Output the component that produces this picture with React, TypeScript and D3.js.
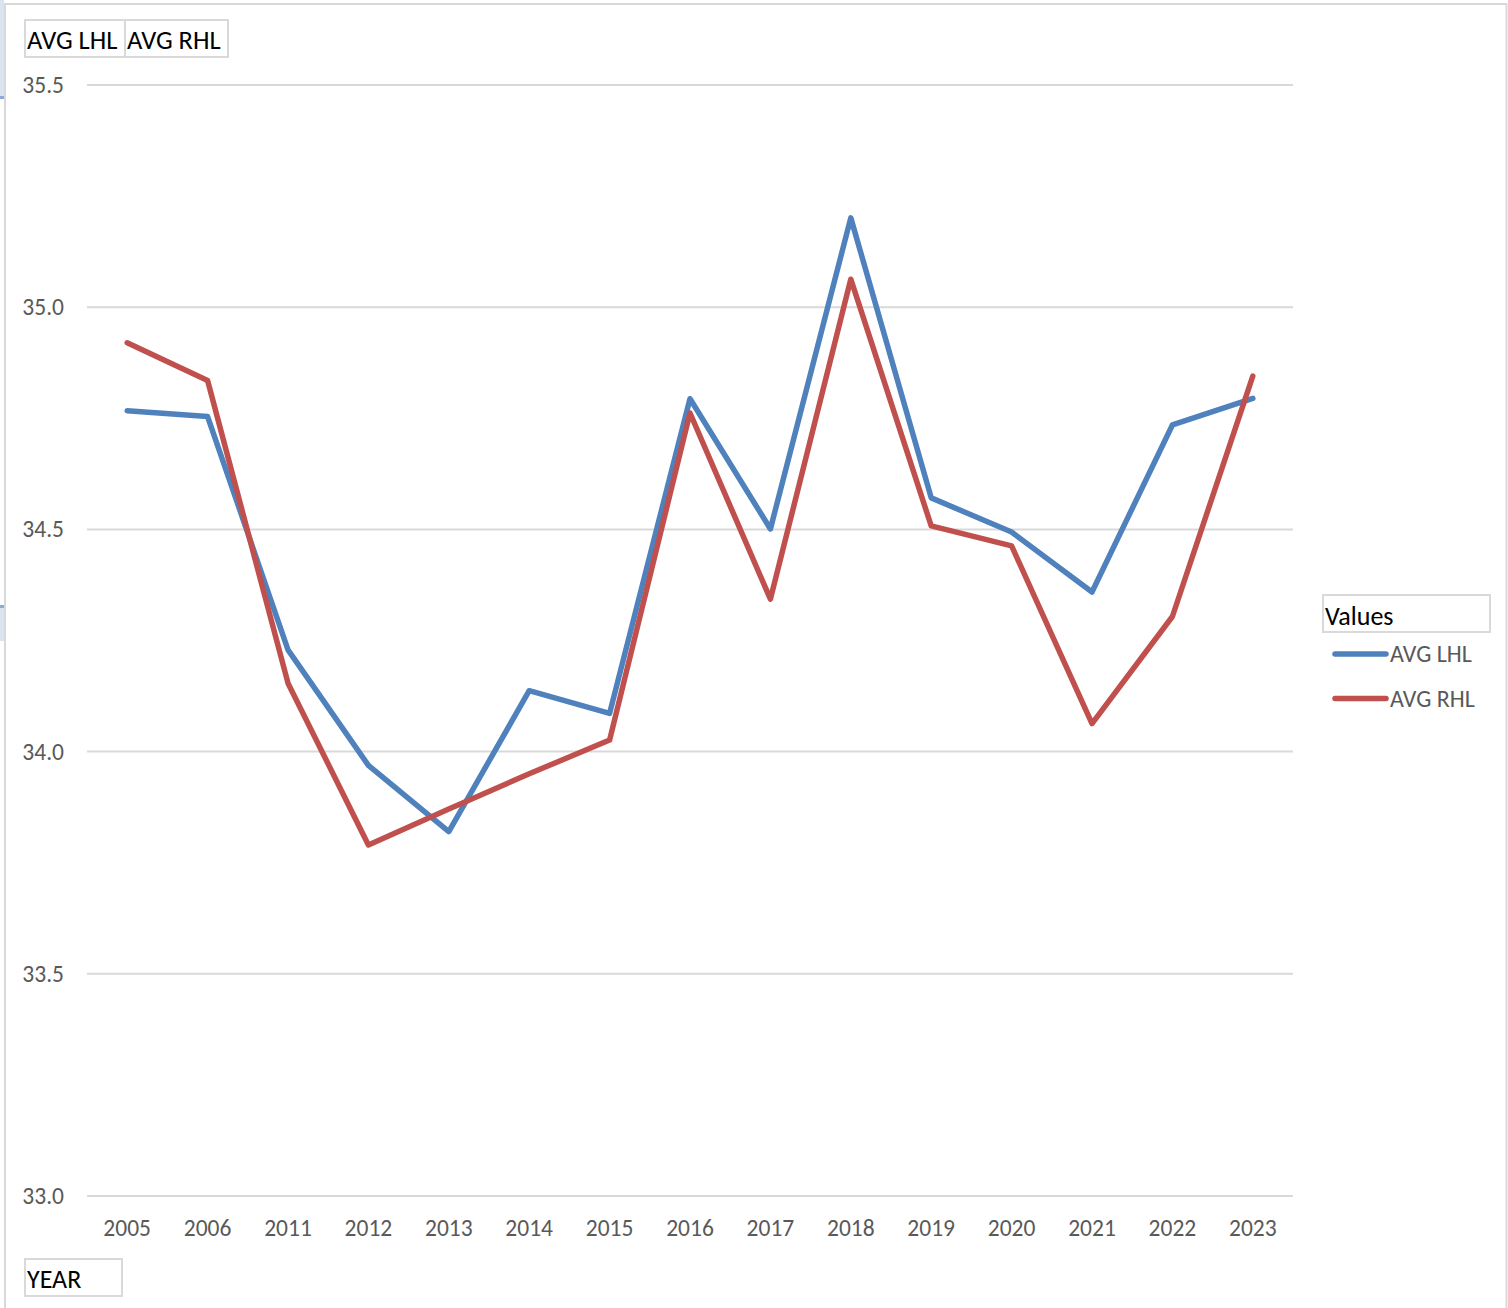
import * as d3 from 'd3';

const years = ['2005', '2006', '2011', '2012', '2013', '2014', '2015', '2016', '2017', '2018', '2019', '2020', '2021', '2022', '2023'];
const avgLHL = [34.767, 34.754, 34.229, 33.969, 33.82, 34.137, 34.086, 34.794, 34.501, 35.201, 34.571, 34.494, 34.359, 34.735, 34.795];
const avgRHL = [34.92, 34.835, 34.154, 33.79, 33.871, 33.95, 34.026, 34.762, 34.343, 35.063, 34.508, 34.463, 34.063, 34.304, 34.845];
const yTicks = [33.0, 33.5, 34.0, 34.5, 35.0, 35.5];

const series = [
  { name: 'AVG LHL', values: avgLHL, color: '#4f81bd' },
  { name: 'AVG RHL', values: avgRHL, color: '#c0504d' },
];

const W = 1508;
const H = 1308;
const FONT = "Carlito, Calibri, 'Liberation Sans', sans-serif";
const BORDER = '#d9d9d9';

export default function App() {
  const x = d3.scaleBand<string>().domain(years).range([87, 1293]).padding(0);
  const y = d3.scaleLinear().domain([33, 35.5]).range([1196, 85]);
  const cx = (yr: string) => (x(yr) ?? 0) + x.bandwidth() / 2;

  const line = d3
    .line<number>()
    .x((_, i) => cx(years[i]))
    .y((v) => y(v));

  return (
    <svg
      width={W}
      height={H}
      style={{ position: 'absolute', left: 0, top: 0, background: '#fff' }}
      fontFamily={FONT}
    >
      {/* spreadsheet cell edges peeking out at the left */}
      <rect x={0} y={0} width={4} height={96} fill="#dae3f0" />
      <rect x={0} y={96} width={4} height={3} fill="#8eaadb" />
      <rect x={0} y={605} width={4} height={3} fill="#8eaadb" />
      <rect x={0} y={608} width={4} height={33} fill="#dae3f0" />

      {/* chart frame */}
      <path d={`M5,${H} V4 H1506.5 V${H}`} fill="none" stroke={BORDER} strokeWidth={2} />

      {/* gridlines + y labels */}
      {yTicks.map((t) => (
        <g key={t}>
          <line x1={87} x2={1293} y1={y(t)} y2={y(t)} stroke={BORDER} strokeWidth={2} />
          <text x={64} y={y(t) + 8} textAnchor="end" fontSize={23.5} fill="#595959">
            {d3.format('.1f')(t)}
          </text>
        </g>
      ))}

      {/* x labels */}
      {years.map((yr) => (
        <text key={yr} x={cx(yr)} y={1236} textAnchor="middle" fontSize={23.5} fill="#595959">
          {yr}
        </text>
      ))}

      {/* series lines */}
      {series.map((s) => (
        <path
          key={s.name}
          d={line(s.values) ?? ''}
          fill="none"
          stroke={s.color}
          strokeWidth={5.5}
          strokeLinejoin="round"
          strokeLinecap="round"
        />
      ))}

      {/* pivot field buttons */}
      <rect x={25} y={20} width={100} height={37} fill="#fff" stroke={BORDER} strokeWidth={2} />
      <rect x={125} y={20} width={103} height={37} fill="#fff" stroke={BORDER} strokeWidth={2} />
      <text x={27} y={49} fontSize={26.5} fill="#000">AVG LHL</text>
      <text x={127} y={49} fontSize={26.5} fill="#000">AVG RHL</text>

      <rect x={25} y={1259} width={97} height={37} fill="#fff" stroke={BORDER} strokeWidth={2} />
      <text x={27} y={1288} fontSize={26} fill="#000">YEAR</text>

      {/* legend */}
      <rect x={1323} y={595} width={167} height={37} fill="#fff" stroke={BORDER} strokeWidth={2} />
      <text x={1325} y={625} fontSize={26} fill="#000">Values</text>
      {series.map((s, i) => (
        <g key={s.name} transform={`translate(0,${654 + i * 44.5})`}>
          <line x1={1335} x2={1386} y1={0} y2={0} stroke={s.color} strokeWidth={5.5} strokeLinecap="round" />
          <text x={1390} y={8} fontSize={24} fill="#595959">
            {s.name}
          </text>
        </g>
      ))}
    </svg>
  );
}
